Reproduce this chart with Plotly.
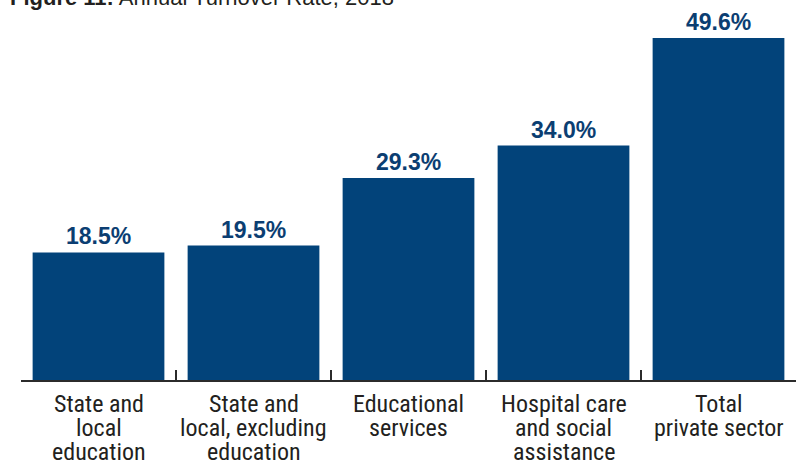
import plotly.graph_objects as go

categories = [
    "State and local education",
    "State and local, excluding education",
    "Educational services",
    "Hospital care and social assistance",
    "Total private sector",
]
category_lines = [
    ["State and", "local", "education"],
    ["State and", "local, excluding", "education"],
    ["Educational", "services"],
    ["Hospital care", "and social", "assistance"],
    ["Total", "private sector"],
]
values = [18.5, 19.5, 29.3, 34.0, 49.6]
labels = ["18.5%", "19.5%", "29.3%", "34.0%", "49.6%"]

bar_color = "#02437a"
label_color = "#0b3e72"
text_color = "#231f20"

fig = go.Figure(
    go.Bar(
        x=categories,
        y=values,
        marker=dict(color=bar_color, line=dict(width=0)),
        hoverinfo="skip",
    )
)

fig.update_layout(
    width=799,
    height=467,
    margin=dict(l=21, r=3, t=0, b=87, autoexpand=False),
    plot_bgcolor="white",
    paper_bgcolor="white",
    bargap=0.15,
    showlegend=False,
)

fig.update_xaxes(
    showline=True,
    linecolor="#2b2b2b",
    linewidth=2,
    ticks="inside",
    tickson="boundaries",
    ticklen=10,
    tickwidth=2,
    tickcolor="#2b2b2b",
    showticklabels=False,
    showgrid=False,
    automargin=False,
)
fig.update_yaxes(range=[0, 55.1], visible=False, showgrid=False, automargin=False)

# Value labels above bars
for cat, val, lab in zip(categories, values, labels):
    fig.add_annotation(
        text=f"<b>{lab}</b>",
        x=cat, xref="x",
        y=val, yref="y",
        yanchor="bottom", xanchor="center",
        yshift=1,
        showarrow=False,
        font=dict(family="Liberation Sans, Arial, sans-serif", size=23, color=label_color),
    )

# Category labels, one annotation per line for tight line spacing
for cat, lines in zip(categories, category_lines):
    for j, line in enumerate(lines):
        fig.add_annotation(
            text=line,
            x=cat, xref="x",
            y=0, yref="paper",
            yanchor="middle", xanchor="center",
            yshift=-24 - 24 * j,
            showarrow=False,
            font=dict(family="Roboto Condensed, sans-serif", size=24, color=text_color),
        )

fig.add_annotation(
    text="<b>Figure 11:</b> Annual Turnover Rate, 2018",
    xref="paper", yref="paper",
    x=0, y=1,
    xshift=-13, yshift=-12,
    xanchor="left", yanchor="bottom",
    showarrow=False,
    font=dict(family="Liberation Sans, Arial, sans-serif", size=22, color=text_color),
)

fig.write_html(
    "out.html",
    config={"displayModeBar": False},
    post_script="document.body.style.margin='0';",
)
